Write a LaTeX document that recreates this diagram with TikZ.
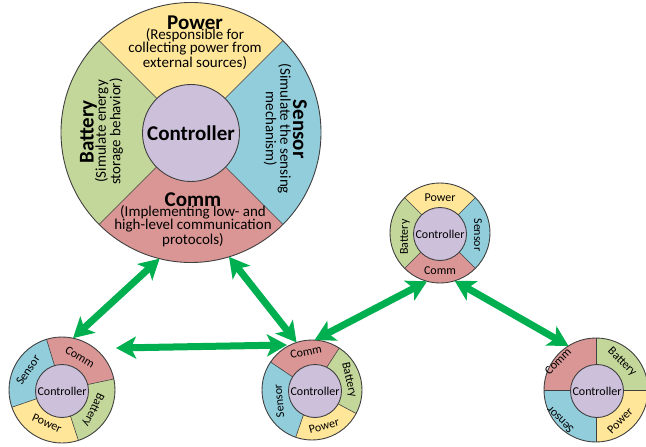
\documentclass[tikz,border=0pt]{standalone}
\usepackage{fontspec}
\setmainfont{Carlito}
\usetikzlibrary{arrows.meta,calc}
\definecolor{colpw}{HTML}{FFE699}
\definecolor{colsn}{HTML}{92CDDC}
\definecolor{colbt}{HTML}{C4D79B}
\definecolor{colcm}{HTML}{DA9694}
\definecolor{colct}{HTML}{CCC0DA}
\definecolor{colln}{HTML}{404040}
\definecolor{colarr}{HTML}{00B050}
\newcommand\sectfill[5]{\fill[fill=#5] (#1) -- ++(#3:#2pt) arc[start angle=#3,end angle=#4,radius=#2pt] -- cycle;}
\tikzset{
 ttl/.style={font=\bfseries\fontsize{21}{22}\selectfont, inner sep=0},
 sub/.style={font=\fontsize{15}{13}\selectfont, align=center, inner sep=0},
 subv/.style={font=\fontsize{15}{11.5}\selectfont, align=center, inner sep=0},
 sml/.style={font=\fontsize{12}{12}\selectfont, inner sep=0},
 rim/.style={circle, draw=colln, line width=0.9pt, inner sep=0, outer sep=0},
 hub/.style={circle, draw=colln, line width=0.9pt, fill=colct, inner sep=0, outer sep=0},
 divl/.style={draw=colln, line width=0.6pt},
 link/.style={draw=colarr, line width=7pt, {Stealth[length=20pt,width=22pt,inset=5pt]}-{Stealth[length=20pt,width=22pt,inset=5pt]}},
}
\begin{document}
\begin{tikzpicture}[x=1pt,y=1pt]
\useasboundingbox (0,0) rectangle (646,-447);
% ---------- big circle
\sectfill{191,-132.5}{130}{45}{135}{colpw}
\sectfill{191,-132.5}{130}{135}{225}{colbt}
\sectfill{191,-132.5}{130}{225}{315}{colcm}
\sectfill{191,-132.5}{130}{-45}{45}{colsn}
\foreach \a in {45,135,225,315} \draw[divl] (191,-132.5) -- ++(\a:130pt);
\node[rim, minimum size=260pt] (bigout) at (191,-132.5) {};
\node[hub, minimum size=97pt, font=\bfseries\fontsize{21}{22}\selectfont] (bigin) at (191,-133) {Controller};
\node[ttl] (bigpw) at (195,-23) {Power};
\node[sub] (bigpws) at (195,-49) {(Responsible for\\collecting power from\\external sources)};
\node[ttl, rotate=90] (bigbt) at (88.5,-132) {Battery};
\node[subv, rotate=90] (bigbts) at (109,-131.5) {(Simulate energy\\storage behavior)};
\node[ttl, rotate=-90] (bigsn) at (300,-129) {Sensor};
\node[subv, rotate=-90] (bigsns) at (277.5,-129) {(Simulate the sensing\\mechanism)};
\node[ttl] (bigcm) at (193,-200) {Comm};
\node[sub] (bigcms) at (193,-226) {(Implementing low- and\\high-level communication\\protocols)};
% ---------- top-right small circle
\sectfill{440,-233}{50}{45}{135}{colpw}
\sectfill{440,-233}{50}{135}{225}{colbt}
\sectfill{440,-233}{50}{225}{315}{colcm}
\sectfill{440,-233}{50}{-45}{45}{colsn}
\foreach \a in {45,135,225,315} \draw[divl] (440,-233) -- ++(\a:50pt);
\node[rim, minimum size=100pt] (trout) at (440,-233) {};
\node[hub, minimum size=53pt, sml] (trin) at (440,-234) {Controller};
\node[sml] (trpw) at (440,-198) {Power};
\node[sml] (trcm) at (440,-271) {Comm};
\node[sml, rotate=90] (trbt) at (405,-237) {Battery};
\node[sml, rotate=-90] (trsn) at (478,-235) {Sensor};
% ---------- bottom-left small circle
\sectfill{62,-390}{53}{12}{107}{colcm}
\sectfill{62,-390}{53}{107}{199}{colsn}
\sectfill{62,-390}{53}{199}{288}{colpw}
\sectfill{62,-390}{53}{288}{372}{colbt}
\foreach \a in {12,107,199,288} \draw[divl] (62,-390) -- ++(\a:53pt);
\node[rim, minimum size=106pt] (blout) at (62,-390) {};
\node[hub, minimum size=53pt, sml] (blin) at (62,-391) {Controller};
\node[sml, rotate=-31] (blcm) at (80,-357) {Comm};
\node[sml, rotate=56] (blsn) at (28,-370) {Sensor};
\node[sml, rotate=-24] (blpw) at (47,-423) {Power};
\node[sml, rotate=-116] (blbt) at (93,-410) {Battery};
% ---------- bottom-middle small circle
\sectfill{312,-390}{50}{57}{146}{colcm}
\sectfill{312,-390}{50}{146}{251}{colsn}
\sectfill{312,-390}{50}{251}{332}{colpw}
\sectfill{312,-390}{50}{332}{417}{colbt}
\foreach \a in {57,146,251,332} \draw[divl] (312,-390) -- ++(\a:50pt);
\node[rim, minimum size=100pt] (bmout) at (312,-390) {};
\node[hub, minimum size=53pt, sml] (bmin) at (315,-391) {Controller};
\node[sml, rotate=11] (bmcm) at (306,-352) {Comm};
\node[sml, rotate=-77] (bmbt) at (349,-380) {Battery};
\node[sml, rotate=95] (bmsn) at (279,-401) {Sensor};
\node[sml, rotate=15] (bmpw) at (324,-426) {Power};
% ---------- bottom-right small circle
\sectfill{596,-390}{52}{0}{90}{colbt}
\sectfill{596,-390}{52}{90}{180}{colcm}
\sectfill{596,-390}{52}{180}{270}{colsn}
\sectfill{596,-390}{52}{270}{360}{colpw}
\foreach \a in {0,90,180,270} \draw[divl] (596,-390) -- ++(\a:52pt);
\node[rim, minimum size=104pt] (brout) at (596,-390) {};
\node[hub, minimum size=53pt, sml] (brin) at (597,-391) {Controller};
\node[sml, rotate=45] (brcm) at (558,-361) {Comm};
\node[sml, rotate=-45] (brbt) at (622,-362) {Battery};
\node[sml, rotate=45] (brpw) at (620,-421) {Power};
\node[sml, rotate=135] (brsn) at (560,-420) {Sensor};
% ---------- links
\coordinate (hl) at (116,-348);
\coordinate (hr) at (287,-345);
\draw[link] (bigout.-104) -- (blout.78);
\draw[link] (bigout.-73) -- (bmout.108);
\draw[link] (hl) -- (hr);
\draw[link] (bmout.87) -- (trout.-105);
\draw[link] (trout.-73) -- (brout.122);
\end{tikzpicture}
\end{document}
